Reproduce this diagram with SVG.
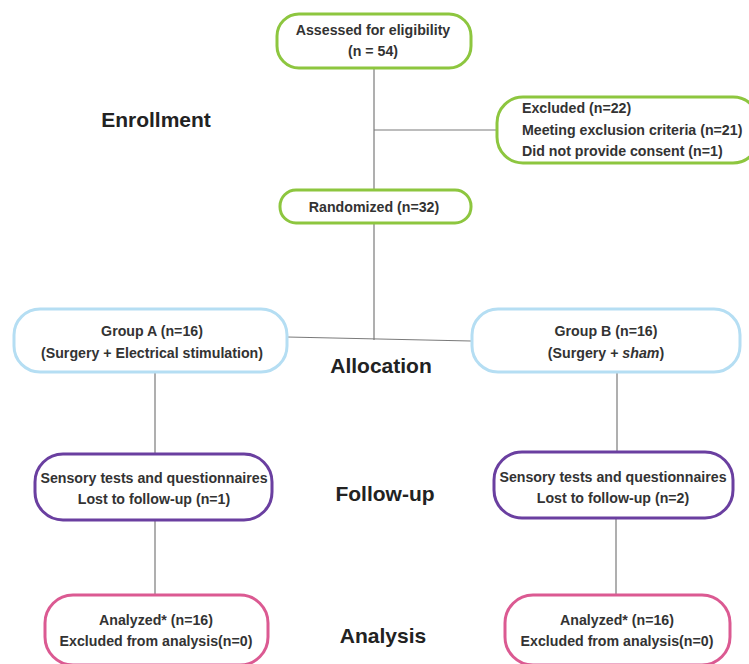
<svg xmlns="http://www.w3.org/2000/svg" width="749" height="664" viewBox="0 0 749 664">
<style>
.bg{fill:#fff}
.g{fill:#fff;stroke:#8dc63f;stroke-width:3}
.b{fill:#fff;stroke:#b5def3;stroke-width:3}
.p{fill:#fff;stroke:#6a3fa0;stroke-width:3}
.k{fill:#fff;stroke:#db5a92;stroke-width:3}
.t{font-family:"Liberation Sans",Arial,sans-serif;font-weight:bold;font-size:14.2px;fill:#333}
.c{text-anchor:middle}
.h{font-family:"Liberation Sans",Arial,sans-serif;font-weight:bold;font-size:21px;fill:#222;text-anchor:middle}
.ln{stroke:#7a7a7a;stroke-width:1.2;fill:none}
</style>
<rect class="bg" width="749" height="664"/>
<g id="connectors">
<line class="ln" x1="374" y1="69" x2="374" y2="190"/>
<line class="ln" x1="374" y1="130" x2="497" y2="130"/>
<line class="ln" x1="374" y1="224" x2="374" y2="340"/>
<line class="ln" x1="287" y1="337" x2="471" y2="341"/>
<line class="ln" x1="155" y1="373" x2="155" y2="454"/>
<line class="ln" x1="617" y1="373" x2="617" y2="452"/>
<line class="ln" x1="155" y1="521" x2="155" y2="595"/>
<line class="ln" x1="616" y1="519" x2="616" y2="595"/>
</g>
<g id="assessed">
<rect class="g" x="277" y="14" width="194" height="54" rx="22"/>
<text class="t c" x="373" y="35">Assessed for eligibility</text>
<text class="t c" x="373" y="56">(n = 54)</text>
</g>
<g id="excluded">
<rect class="g" x="497" y="97" width="262" height="66" rx="26"/>
<text class="t" x="522" y="113">Excluded (n=22)</text>
<text class="t" x="522" y="135">Meeting exclusion criteria (n=21)</text>
<text class="t" x="522" y="156">Did not provide consent (n=1)</text>
</g>
<g id="randomized">
<rect class="g" x="280" y="190" width="191" height="33" rx="16"/>
<text class="t c" x="374" y="212">Randomized (n=32)</text>
</g>
<g id="groupA">
<rect class="b" x="14" y="309" width="273" height="63" rx="26"/>
<text class="t c" x="152" y="336">Group A (n=16)</text>
<text class="t c" x="152" y="358">(Surgery + Electrical stimulation)</text>
</g>
<g id="groupB">
<rect class="b" x="472" y="309" width="268" height="63" rx="26"/>
<text class="t c" x="606" y="336">Group B (n=16)</text>
<text class="t c" x="606" y="358">(Surgery + <tspan font-style="italic">sham</tspan>)</text>
</g>
<g id="followA">
<rect class="p" x="35" y="454" width="237" height="66" rx="28"/>
<text class="t c" x="154" y="483">Sensory tests and questionnaires</text>
<text class="t c" x="154" y="504">Lost to follow-up (n=1)</text>
</g>
<g id="followB">
<rect class="p" x="494" y="452" width="239" height="66" rx="28"/>
<text class="t c" x="613" y="482">Sensory tests and questionnaires</text>
<text class="t c" x="613" y="503">Lost to follow-up (n=2)</text>
</g>
<g id="analysisA">
<rect class="k" x="45" y="595" width="223" height="70" rx="28"/>
<text class="t c" x="156" y="625">Analyzed* (n=16)</text>
<text class="t c" x="156" y="646">Excluded from analysis(n=0)</text>
</g>
<g id="analysisB">
<rect class="k" x="505" y="595" width="225" height="70" rx="28"/>
<text class="t c" x="617" y="625">Analyzed* (n=16)</text>
<text class="t c" x="617" y="646">Excluded from analysis(n=0)</text>
</g>
<g id="labels">
<text class="h" x="156" y="127">Enrollment</text>
<text class="h" x="381" y="373">Allocation</text>
<text class="h" x="385" y="501">Follow-up</text>
<text class="h" x="383" y="643">Analysis</text>
</g>
</svg>
